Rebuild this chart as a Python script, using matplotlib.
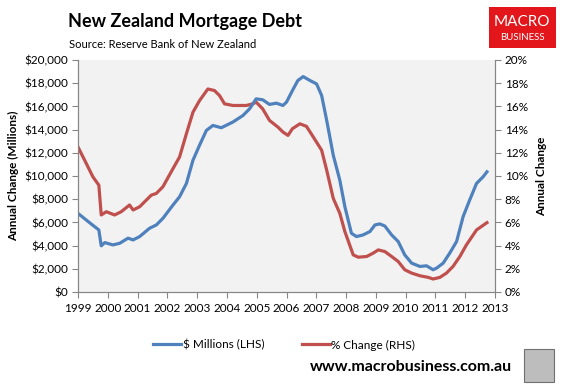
import matplotlib
matplotlib.use("Agg")
import matplotlib.pyplot as plt
from matplotlib.lines import Line2D
from matplotlib.patches import Rectangle
from matplotlib.ticker import FuncFormatter, MultipleLocator

# values (decimal years)
debt_years = [1999.0, 1999.28, 1999.5, 1999.7, 1999.78, 1999.9, 2000.17, 2000.4, 2000.68, 2000.85,
              2001.07, 2001.4, 2001.63, 2001.85, 2002.19, 2002.41, 2002.64, 2002.86, 2003.08, 2003.31,
              2003.53, 2003.81, 2004.2, 2004.54, 2004.76, 2004.98, 2005.2, 2005.43, 2005.66, 2005.88,
              2006.0, 2006.2, 2006.38, 2006.56, 2006.79, 2007.01, 2007.18, 2007.35, 2007.57, 2007.79,
              2007.96, 2008.18, 2008.35, 2008.57, 2008.8, 2008.97, 2009.13, 2009.3, 2009.53, 2009.75,
              2009.97, 2010.2, 2010.48, 2010.7, 2010.92, 2011.04, 2011.26, 2011.48, 2011.71, 2011.93,
              2012.15, 2012.38, 2012.6, 2012.73]
debt_millions = [6780, 6200, 5750, 5350, 3980, 4260, 4060, 4200, 4640, 4490,
                 4780, 5490, 5780, 6350, 7500, 8210, 9360, 11360, 12650, 13930,
                 14360, 14160, 14650, 15220, 15790, 16650, 16570, 16170, 16280, 16080,
                 16370, 17370, 18230, 18570, 18230, 17940, 16940, 14790, 11790, 9640,
                 7350, 5060, 4780, 4920, 5210, 5780, 5870, 5690, 4920, 4350,
                 3200, 2490, 2200, 2260, 1920, 2060, 2490, 3350, 4350, 6500,
                 7930, 9360, 9930, 10360]

pct_years = [1999.0, 1999.28, 1999.5, 1999.7, 1999.78, 1999.95, 2000.23, 2000.45, 2000.73, 2000.85,
             2001.07, 2001.46, 2001.63, 2001.85, 2002.19, 2002.41, 2002.64, 2002.86, 2003.08, 2003.36,
             2003.58, 2003.75, 2003.92, 2004.2, 2004.65, 2004.87, 2004.98, 2005.2, 2005.43, 2005.71,
             2005.88, 2006.05, 2006.2, 2006.45, 2006.67, 2006.9, 2007.18, 2007.35, 2007.57, 2007.79,
             2007.96, 2008.24, 2008.41, 2008.69, 2008.91, 2009.08, 2009.3, 2009.53, 2009.75, 2009.97,
             2010.2, 2010.48, 2010.76, 2010.92, 2011.15, 2011.37, 2011.59, 2011.82, 2012.04, 2012.38,
             2012.73]
pct_change = [12.5, 11.07, 9.93, 9.21, 6.64, 6.92, 6.64, 6.92, 7.5, 7.07,
              7.35, 8.35, 8.5, 9.07, 10.64, 11.64, 13.65, 15.5, 16.5, 17.5,
              17.37, 16.94, 16.22, 16.08, 16.08, 16.22, 16.37, 15.79, 14.79, 14.22,
              13.79, 13.5, 14.08, 14.5, 14.28, 13.36, 12.22, 10.5, 8.07, 6.78,
              5.21, 3.2, 3.0, 3.06, 3.35, 3.63, 3.49, 3.06, 2.63, 1.92,
              1.63, 1.4, 1.26, 1.12, 1.26, 1.63, 2.2, 3.06, 4.06, 5.35,
              5.98]

year_ticks = list(range(1999, 2014))

BLUE = "#4F81BD"
RED = "#C0504D"
GREY = "#868686"

plt.rcParams["font.family"] = ["Lato", "DejaVu Sans"]

fig = plt.figure(figsize=(5.66, 3.86), dpi=100)
ax = fig.add_axes([78 / 566, 1 - 292 / 386, (495 - 78) / 566, (292 - 60) / 386])
ax2 = ax.twinx()

ax.plot(debt_years, debt_millions, color=BLUE, lw=2.3, solid_joinstyle="round")
ax2.plot(pct_years, pct_change, color=RED, lw=2.3, solid_joinstyle="round")
# blue axis drawn above the red one, grey background on the lower axis
ax.set_zorder(2)
ax.patch.set_visible(False)
ax2.set_zorder(1)
ax2.patch.set_visible(True)
ax2.set_facecolor("#F2F2F2")

ax.set_xlim(1999, 2013)
ax.set_ylim(0, 20000)
ax2.set_ylim(0, 20)
ax.set_xticks(year_ticks)
ax.set_xticklabels([str(y) for y in year_ticks])
ax.yaxis.set_major_locator(MultipleLocator(2000))
ax2.yaxis.set_major_locator(MultipleLocator(2))
ax.yaxis.set_major_formatter(FuncFormatter(lambda v, _: "\\$" + format(int(v), ",")))
ax2.yaxis.set_major_formatter(FuncFormatter(lambda v, _: f"{int(v)}%"))

for a in (ax, ax2):
    a.spines["top"].set_visible(False)
    for s in ("left", "right", "bottom"):
        a.spines[s].set_color(GREY)
        a.spines[s].set_linewidth(0.8)
    a.tick_params(colors=GREY, labelcolor="black", labelsize=8.5, length=4, width=0.8)
ax.tick_params(axis="x", pad=4)
ax.tick_params(axis="y", pad=3)
ax2.tick_params(axis="y", pad=3)

ax.set_ylabel("Annual Change (Millions)", fontsize=8.5, fontweight="bold", labelpad=4)
ax2.set_ylabel("Annual Change", fontsize=8.5, fontweight="bold", labelpad=6)

fig.text(68 / 566, 1 - 22 / 386, "New Zealand Mortgage Debt", fontsize=13, fontweight="bold",
         va="center", ha="left")
fig.text(69 / 566, 1 - 45 / 386, "Source: Reserve Bank of New Zealand", fontsize=8,
         va="center", ha="left")

# MacroBusiness logo
fig.patches.append(Rectangle((489 / 566, 1 - 48 / 386), 67 / 566, 41 / 386,
                             transform=fig.transFigure, facecolor="#E3161B", edgecolor="none"))
fig.text(522 / 566, 1 - 22 / 386, "MACRO", color="white", fontsize=11, ha="center", va="center")
fig.text(522 / 566, 1 - 37 / 386, "BUSINESS", color="white", fontsize=7, ha="center", va="center")

handles = [Line2D([], [], color=BLUE, lw=2.3), Line2D([], [], color=RED, lw=2.3)]
fig.legend(handles, ["\\$ Millions (LHS)", "% Change (RHS)"], loc="center",
           bbox_to_anchor=(0.502, 1 - 345 / 386), ncol=2, frameon=False, fontsize=8.5,
           handlelength=2.4, handletextpad=0.1, columnspacing=3.2)

fig.text(512 / 566, 1 - 367 / 386, "www.macrobusiness.com.au", fontsize=11.5, fontweight="bold",
         ha="right", va="center")
fig.patches.append(Rectangle((524 / 566, 1 - 382 / 386), 30 / 566, 33 / 386,
                             transform=fig.transFigure, facecolor="#BDBDBD", edgecolor="#707070", lw=0.8))

fig.savefig("out.png", dpi=100)
